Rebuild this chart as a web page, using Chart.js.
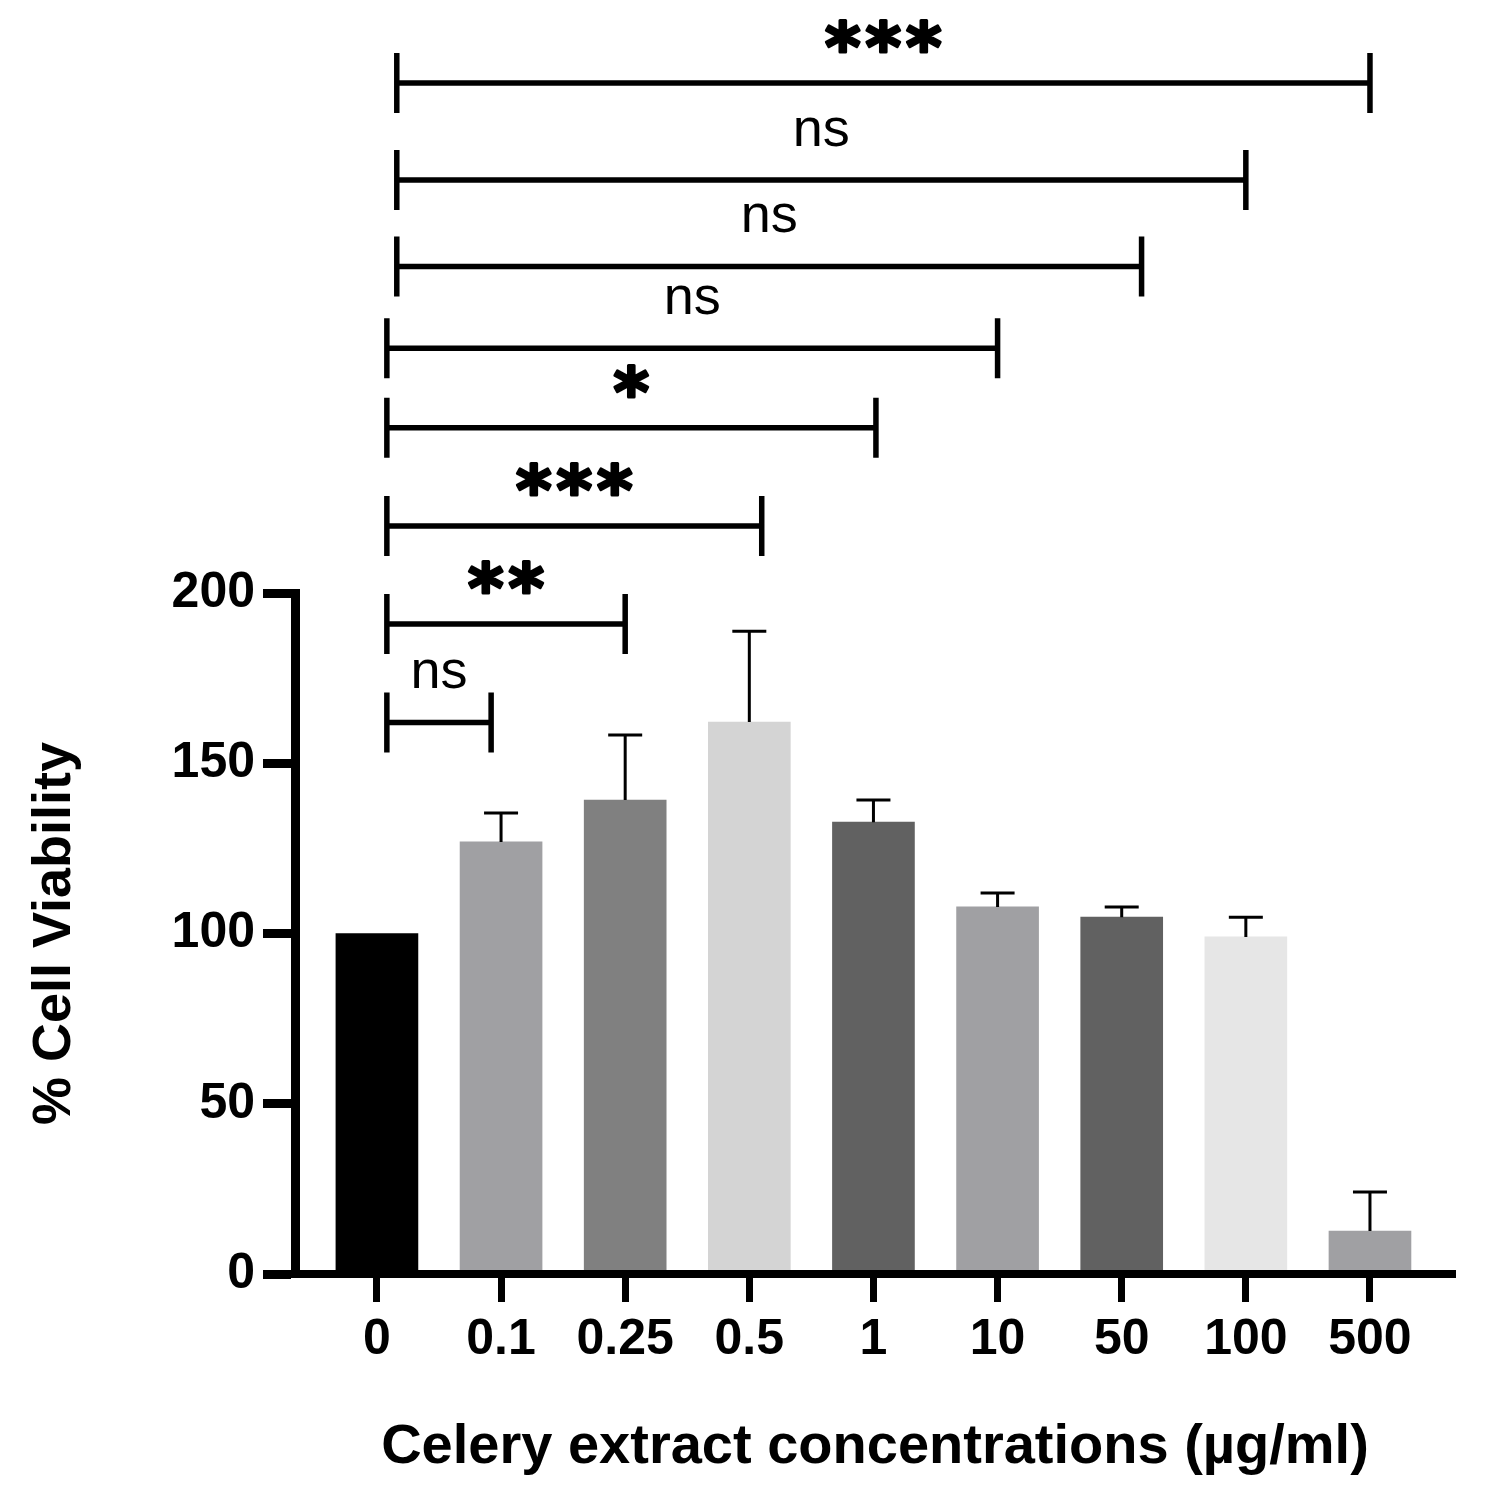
<!DOCTYPE html>
<html>
<head>
<meta charset="utf-8">
<title>Cell viability</title>
<script src="https://cdn.jsdelivr.net/npm/chart.js@4.4.1/dist/chart.umd.min.js"></script>
<style>
  html, body { margin: 0; padding: 0; background: #fff; }
  canvas { display: block; }
</style>
</head>
<body>
<canvas id="viabilityChart" width="1491" height="1502"></canvas>
<script>
// Concentrations of celery extract (µg/ml), one bar each
let concentrations = ["0", "0.1", "0.25", "0.5", "1", "10", "50", "100", "500"];
// Mean % cell viability
let viability = [100, 126.9, 139.2, 162.1, 132.7, 107.8, 104.8, 99.0, 12.6];
// Upper error (SD) above each mean
let errorUp = [0, 8.5, 19.1, 26.7, 6.5, 4.1, 3.0, 5.8, 11.5];
// Bar fills as in the figure
let barColors = ["#000000", "#a0a0a3", "#808080", "#d4d4d4", "#616161", "#a0a0a3", "#616161", "#e6e6e6", "#a0a0a3"];
let yTicks = [0, 50, 100, 150, 200];

// Significance brackets vs control: start/end in category units, height in % units
let bracketStart = [0.16, 0.16, 0.16, 0.08, 0.08, 0.08, 0.08, 0.08];
let bracketEnd = [8, 7, 6.16, 5, 4.02, 3.1, 2, 0.92];
let bracketLevel = [349.8, 321.3, 295.9, 271.9, 248.5, 219.7, 190.9, 162.0];
let bracketLabel = ["***", "ns", "ns", "ns", "*", "***", "**", "ns"];

let fontFamily = "'Liberation Sans', Arial, Helvetica, sans-serif";

// Draws the upper SD whiskers on top of the bars
let errorBarPlugin = {
  id: "errorBars",
  afterDatasetsDraw(chart) {
    let ctx = chart.ctx;
    let x = chart.scales.x;
    let y = chart.scales.y;
    ctx.save();
    ctx.strokeStyle = "#000";
    ctx.lineWidth = 3;
    for (let i = 0; i < viability.length; i++) {
      if (!errorUp[i]) continue;
      let px = x.getPixelForValue(i);
      let top = y.getPixelForValue(viability[i] + errorUp[i]);
      let bottom = y.getPixelForValue(viability[i]);
      ctx.beginPath();
      ctx.moveTo(px, bottom);
      ctx.lineTo(px, top);
      ctx.moveTo(px - 17, top);
      ctx.lineTo(px + 17, top);
      ctx.stroke();
    }
    ctx.restore();
  },
};

// Draws the comparison brackets and their labels above the plot
let bracketPlugin = {
  id: "brackets",
  afterDraw(chart) {
    let ctx = chart.ctx;
    let x = chart.scales.x;
    let y = chart.scales.y;
    ctx.save();
    ctx.strokeStyle = "#000";
    ctx.fillStyle = "#000";
    ctx.textAlign = "center";
    ctx.textBaseline = "alphabetic";
    ctx.lineJoin = "round";
    for (let i = 0; i < bracketLabel.length; i++) {
      let x1 = x.getPixelForValue(bracketStart[i]);
      let x2 = x.getPixelForValue(bracketEnd[i]);
      let py = y.getPixelForValue(bracketLevel[i]);
      ctx.lineWidth = 5.5;
      ctx.beginPath();
      ctx.moveTo(x1, py);
      ctx.lineTo(x2, py);
      ctx.moveTo(x1, py - 30);
      ctx.lineTo(x1, py + 30);
      ctx.moveTo(x2, py - 30);
      ctx.lineTo(x2, py + 30);
      ctx.stroke();

      let mid = (x1 + x2) / 2;
      if (bracketLabel[i] === "ns") {
        ctx.font = "54px " + fontFamily;
        ctx.fillText("ns", mid, py - 34);
      } else {
        // stars drawn one by one so spacing matches the figure, stroked to look heavier
        ctx.font = "bold 68px 'DejaVu Sans', sans-serif";
        ctx.lineWidth = 3;
        let m = ctx.measureText("*");
        let baseline = py - 47 + (m.actualBoundingBoxAscent - m.actualBoundingBoxDescent) / 2;
        let n = bracketLabel[i].length;
        for (let k = 0; k < n; k++) {
          let sx = mid + (k - (n - 1) / 2) * 40.5;
          ctx.fillText("*", sx, baseline);
          ctx.strokeText("*", sx, baseline);
        }
      }
    }
    ctx.restore();
  },
};

let ctx = document.getElementById("viabilityChart").getContext("2d");
let viabilityChart = new Chart(ctx, {
  type: "bar",
  data: {
    datasets: [
      {
        data: viability.map((v, i) => ({ x: i, y: v })),
        backgroundColor: barColors,
        borderWidth: 0,
        barThickness: 82,
      },
    ],
  },
  options: {
    responsive: false,
    animation: false,
    devicePixelRatio: 1,
    layout: { padding: { top: 593, right: 36, left: 0, bottom: 0 } },
    plugins: {
      legend: { display: false },
      tooltip: { enabled: false },
    },
    scales: {
      x: {
        type: "linear",
        offset: false,
        min: -0.66,
        max: 8.685,
        afterBuildTicks: (axis) => {
          axis.ticks = concentrations.map((c, i) => ({ value: i }));
        },
        afterFit: (axis) => {
          axis.height = 228;
        },
        ticks: {
          callback: (value) => concentrations[value],
          color: "#000",
          padding: 8,
          maxRotation: 0,
          autoSkip: false,
          font: { family: fontFamily, size: 50, weight: "bold" },
        },
        grid: {
          offset: false,
          drawOnChartArea: false,
          tickLength: 28,
          tickWidth: 7,
          tickColor: "#000",
        },
        border: { color: "#000", width: 8, z: 1 },
        title: {
          display: true,
          text: "Celery extract concentrations (µg/ml)",
          color: "#000",
          padding: { top: 0, bottom: 21 },
          font: { family: fontFamily, size: 56, weight: "bold" },
        },
      },
      y: {
        min: 0,
        max: 200,
        afterBuildTicks: (axis) => {
          axis.ticks = yTicks.map((v) => ({ value: v }));
        },
        afterFit: (axis) => {
          axis.width = 295;
        },
        ticks: {
          color: "#000",
          padding: 8,
          font: { family: fontFamily, size: 50, weight: "bold" },
        },
        grid: {
          drawOnChartArea: false,
          tickLength: 32,
          tickWidth: 9,
          tickColor: "#000",
        },
        border: { color: "#000", width: 9, z: 1 },
        title: {
          display: true,
          text: "% Cell Viability",
          color: "#000",
          padding: { top: 23, bottom: 0 },
          font: { family: fontFamily, size: 54, weight: "bold" },
        },
      },
    },
  },
  plugins: [errorBarPlugin, bracketPlugin],
});
</script>
</body>
</html>
